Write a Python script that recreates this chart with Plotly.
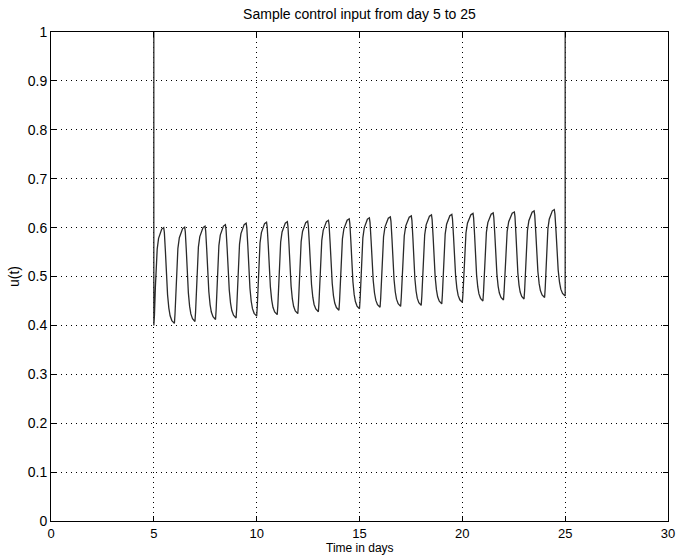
import plotly.graph_objects as go

# ---- data ----
# troughs (start of each cycle) : day and u value
trough_days = [5, 6, 7, 8, 9, 10, 11, 12, 13, 14, 15, 16, 17, 18, 19, 20, 21, 22, 23, 24, 25]
trough_vals = [0.400, 0.404, 0.408, 0.412, 0.415, 0.419, 0.422, 0.424, 0.428, 0.431, 0.434,
               0.437, 0.439, 0.441, 0.444, 0.447, 0.450, 0.452, 0.454, 0.457, 0.460]
# peaks of each cycle
peak_days = [5.48, 6.5, 7.49, 8.48, 9.49, 10.48, 11.49, 12.48, 13.49, 14.5,
             15.48, 16.5, 17.52, 18.5, 19.49, 20.52, 21.5, 22.53, 23.49, 24.47]
peak_vals = [0.600, 0.601, 0.603, 0.606, 0.609, 0.611, 0.612, 0.613, 0.615, 0.618,
             0.620, 0.622, 0.624, 0.626, 0.627, 0.629, 0.630, 0.632, 0.634, 0.637]
# shape of the rising and falling parts (fraction of half-cycle, fraction of swing)
rise_pos = [0.0, 0.06, 0.16, 0.24, 0.34, 0.48, 0.64, 0.80, 1.0]
rise_frac = [0.0, 0.10, 0.40, 0.62, 0.78, 0.89, 0.95, 0.985, 1.0]
fall_pos = [0.0, 0.06, 0.16, 0.26, 0.36, 0.48, 0.60, 0.76, 1.0]
fall_frac = [0.0, 0.05, 0.25, 0.50, 0.70, 0.84, 0.92, 0.97, 1.0]
u_off = 1.0          # control value outside the 5..25 window
x_ticks = [0, 5, 10, 15, 20, 25, 30]
y_ticks = [0, 0.1, 0.2, 0.3, 0.4, 0.5, 0.6, 0.7, 0.8, 0.9, 1]

# ---- build the curve ----
xs = [trough_days[0]]
ys = [u_off]
for i in range(len(peak_days)):
    t0, v0 = trough_days[i], trough_vals[i]
    tp, vp = peak_days[i], peak_vals[i]
    t1, v1 = trough_days[i + 1], trough_vals[i + 1]
    for p, f in zip(rise_pos, rise_frac):
        xs.append(t0 + p * (tp - t0))
        ys.append(v0 + f * (vp - v0))
    for p, f in zip(fall_pos[1:], fall_frac[1:]):
        xs.append(tp + p * (t1 - tp))
        ys.append(vp + f * (v1 - vp))
xs += [trough_days[-1]]
ys += [u_off]

fig = go.Figure()
fig.add_trace(go.Scatter(x=xs, y=ys, mode="lines",
                         line=dict(color="#2a2a2a", width=1.3),
                         showlegend=False, hoverinfo="skip"))

font = "Liberation Sans Narrow, Arial Narrow, Liberation Sans, Arial, sans-serif"
axis_common = dict(showline=True, linecolor="black", linewidth=1, mirror="ticks",
                   ticks="inside", ticklen=5, tickcolor="black", tickwidth=1,
                   showgrid=True, gridcolor="black", griddash="1px,4px", gridwidth=1,
                   zeroline=False, tickfont=dict(family=font, size=14, color="black"),
                   automargin=False)

fig.update_layout(
    width=686, height=555,
    margin=dict(l=51, r=18, t=32, b=34),
    paper_bgcolor="white", plot_bgcolor="white",
    title=dict(text="Sample control input from day 5 to 25", x=0.524, xanchor="center",
               y=0.975, yanchor="middle", font=dict(family=font, size=14, color="black")),
    xaxis=dict(range=[0, 30], tickvals=x_ticks, ticktext=[str(v) for v in x_ticks],
               **{**axis_common, "tickfont": dict(family=font, size=13, color="black")}),
    yaxis=dict(range=[0, 1], tickvals=y_ticks, ticktext=[("%g" % v) for v in y_ticks],
               title=dict(text="u(t)", standoff=4,
                          font=dict(family=font, size=14, color="black")),
               **axis_common),
    annotations=[dict(text="Time in days", xref="paper", yref="paper",
                      x=0.5, y=-0.055, xanchor="center", yanchor="middle",
                      showarrow=False, font=dict(family=font, size=12, color="black"))],
)

fig.write_html("out.html")
